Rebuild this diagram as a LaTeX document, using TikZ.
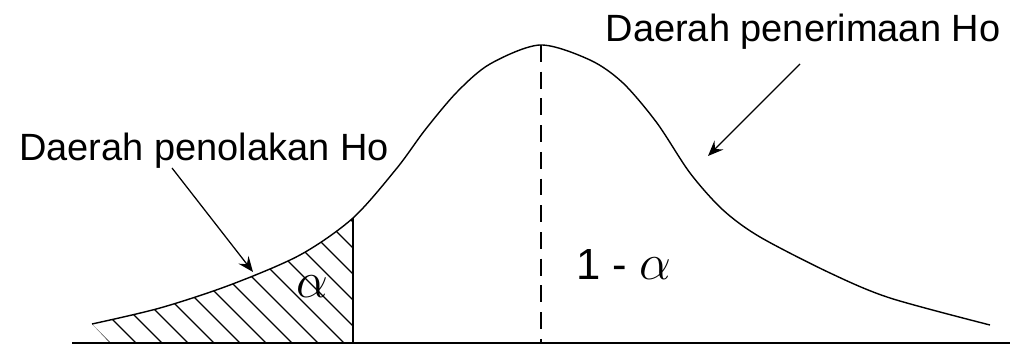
\documentclass[tikz,border=0pt]{standalone}
\usepackage{fix-cm}
\usepackage{fontspec}
\setmainfont{Liberation Sans}
\usetikzlibrary{arrows.meta}

\tikzset{
    curve/.style={line width=1pt, black},
    hatch/.style={line width=0.8pt, black},
    lbl/.style={inner sep=0pt, font=\fontsize{27}{32}\selectfont},
    pointer/.style={line width=0.9pt, -{Stealth[length=11pt, width=9pt, inset=4pt]}}
}

\newcommand{\gausspts}{(92,324) (160,308) (230,285) (300,255) (353,218) (397,168) (425,130) (457,92) (490,64) (540,45) (590,60) (623,83) (657,123) (690,173) (723,210) (760,237) (830,273) (890,298) (990,325)}

\begin{document}
\begin{tikzpicture}[x=0.025cm, y=-0.025cm]
    \useasboundingbox (0,0) rectangle (1022,347);

    % Hatched rejection area
    \begin{scope}
        \clip (92,343) rectangle (353,0);
        \clip plot[smooth] coordinates {\gausspts} -- (990,343) -- (110,343) -- cycle;
        \foreach \x in {110,136,...,500} {
            \draw[hatch] (\x,343) -- ++(-160,-160);
        }
    \end{scope}

    % Curve and axis
    \draw[curve] plot[smooth] coordinates {\gausspts};
    \draw[line width=1.2pt] (72,343) -- (1010,343);
    \draw[curve] (353,343) -- (353,218);
    \draw[curve, dash pattern=on 12pt off 7pt] (541,45) -- (541,343);

    % Labels
    \node[lbl] (rej) at (204,151) {Daerah penolakan Ho};
    \node[lbl] (acc) at (803,32) {Daerah penerimaan Ho};
    \node[inner sep=0pt, font=\fontsize{36}{40}\selectfont] (alf) at (312,287) {$\alpha$};
    \node[inner sep=0pt, font=\fontsize{31}{36}\selectfont] (conf) at (624,265) {1 - {\fontsize{36}{40}\selectfont$\alpha$}};

    % Arrows
    \coordinate (t1) at (172,168);
    \coordinate (h1) at (253,272);
    \coordinate (t2) at (800,64);
    \coordinate (h2) at (708,156);
    \draw[pointer] (t1) -- (h1);
    \draw[pointer] (t2) -- (h2);
\end{tikzpicture}
\end{document}
